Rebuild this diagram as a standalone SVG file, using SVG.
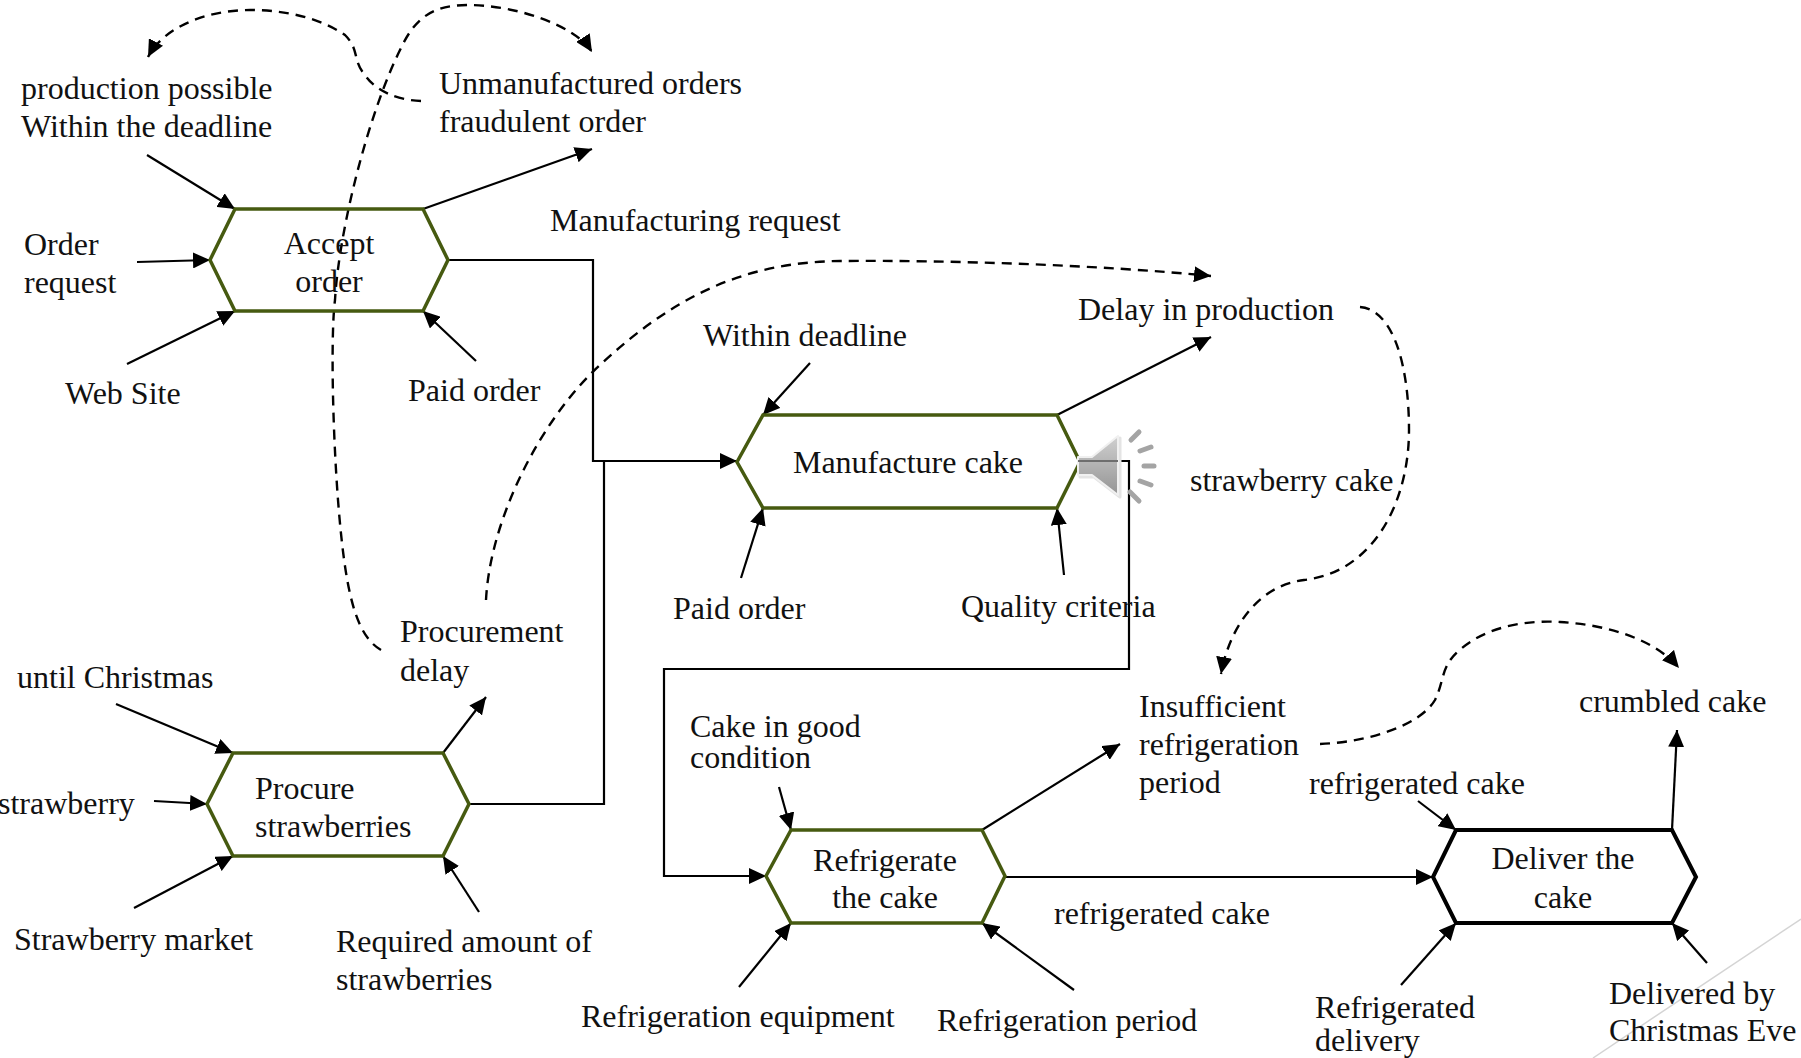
<svg xmlns="http://www.w3.org/2000/svg" width="1801" height="1058" viewBox="0 0 1801 1058">
<style>
text{font-family:"Liberation Serif","Times New Roman",serif;font-size:32px;fill:#111}
.m{text-anchor:middle}
.n{fill:none;stroke:#465a10;stroke-width:3.5;stroke-linejoin:miter}
.k{stroke:#000;stroke-width:4}
.c{fill:none;stroke:#000;stroke-width:2.2}
.a{marker-end:url(#ah)}
.d{fill:none;stroke:#000;stroke-width:2.4;stroke-dasharray:10 7}
.w{stroke:#a4a4a4;stroke-width:5;stroke-linecap:round;fill:none}
</style>
<defs>
<marker id="ah" markerUnits="userSpaceOnUse" markerWidth="19" markerHeight="16" refX="17" refY="8" orient="auto"><path d="M0,0L17,8L0,16Z" fill="#000"/></marker>
<linearGradient id="sp" x1="0" y1="0" x2="0" y2="1"><stop offset="0" stop-color="#d0d0d0"/><stop offset="1" stop-color="#949494"/></linearGradient>
</defs>
<rect width="1801" height="1058" fill="#fff"/>
<path d="M1801,919L1593,1058" fill="none" stroke="#d4d4d4" stroke-width="1.5"/>
<g id="connectors">
<path class="c a" d="M147,155L235,209"/>
<path class="c a" d="M137,262L210,260"/>
<path class="c a" d="M127,364L235,311"/>
<path class="c a" d="M476,361L423,311"/>
<path class="c a" d="M423,209L592,149"/>
<path class="c a" d="M448,260H593V461H737"/>
<path class="c" d="M469,804H604V461"/>
<path class="c a" d="M810,363L763,415"/>
<path class="c a" d="M741,578L763,508"/>
<path class="c a" d="M1064,575L1057,508"/>
<path class="c a" d="M1057,415L1211,337"/>
<path class="c a" d="M1080,461H1129V669H664V876H766"/>
<path class="c a" d="M116,704L233,753"/>
<path class="c a" d="M154,801L207,804"/>
<path class="c a" d="M134,908L233,856"/>
<path class="c a" d="M479,912L443,856"/>
<path class="c a" d="M443,753L486,697"/>
<path class="c a" d="M779,787L791,830"/>
<path class="c a" d="M739,987L791,923"/>
<path class="c a" d="M1074,990L982,923"/>
<path class="c a" d="M982,830L1120,744"/>
<path class="c a" d="M1005,877H1433"/>
<path class="c a" d="M1418,801L1456,830"/>
<path class="c a" d="M1401,985L1456,923"/>
<path class="c a" d="M1707,963L1672,923"/>
<path class="c a" d="M1672,830L1677,730"/>
<path class="d a" d="M421,101C395,100 375,90 365,75C352,60 360,50 345,35C320,18 285,10 250,10C210,10 165,25 148,57"/>
<path class="d a" d="M381,650C355,635 345,590 338,500C332,420 331,330 335,300C339,230 368,115 400,50C414,20 430,5 468,5C515,5 575,25 592,52"/>
<path class="d a" d="M486,600C490,520 540,420 600,365C670,300 740,262 840,261C950,260 1100,265 1211,276"/>
<path class="d a" d="M1360,307C1395,310 1409,370 1409,430C1409,500 1375,572 1304,580C1260,585 1230,625 1221,674"/>
<path class="d a" d="M1320,744C1370,742 1420,725 1435,700C1445,680 1440,665 1462,648C1490,625 1530,620 1560,622C1610,625 1655,640 1679,668"/>
</g>
<g id="accept-order"><path class="n" d="M210,260L235,209H423L448,260L423,311H235Z"/><text class="m" x="329" y="254">Accept</text><text class="m" x="329" y="292">order</text></g>
<g id="manufacture-cake"><path class="n" d="M737,462L763,415H1057L1080,462L1057,508H763Z"/><text class="m" x="908" y="473">Manufacture cake</text></g>
<g id="procure-strawberries"><path class="n" d="M207,804L233,753H443L469,804L443,856H233Z"/><text x="255" y="799">Procure</text><text x="255" y="837">strawberries</text></g>
<g id="refrigerate-cake"><path class="n" d="M766,876L791,830H982L1005,876L982,923H791Z"/><text class="m" x="885" y="871">Refrigerate</text><text class="m" x="885" y="908">the cake</text></g>
<g id="deliver-cake"><path class="n k" d="M1433,877L1456,830H1672L1696,877L1672,923H1456Z"/><text class="m" x="1563" y="869">Deliver the</text><text class="m" x="1563" y="908">cake</text></g>
<g id="labels">
<text x="21" y="99">production possible</text><text x="21" y="137">Within the deadline</text>
<text x="439" y="94">Unmanufactured orders</text><text x="439" y="132">fraudulent order</text>
<text x="550" y="231">Manufacturing request</text>
<text x="24" y="255">Order</text><text x="24" y="293">request</text>
<text x="65" y="404">Web Site</text>
<text x="408" y="401">Paid order</text>
<text x="703" y="346">Within deadline</text>
<text x="1078" y="320">Delay in production</text>
<text x="1190" y="491">strawberry cake</text>
<text x="673" y="619">Paid order</text>
<text x="961" y="617">Quality criteria</text>
<text x="400" y="642">Procurement</text><text x="400" y="681">delay</text>
<text x="17" y="688">until Christmas</text>
<text x="-2" y="814">strawberry</text>
<text x="14" y="950">Strawberry market</text>
<text x="336" y="952">Required amount of</text><text x="336" y="990">strawberries</text>
<text x="690" y="737">Cake in good</text><text x="690" y="768">condition</text>
<text x="1139" y="717">Insufficient</text><text x="1139" y="755">refrigeration</text><text x="1139" y="793">period</text>
<text x="1579" y="712">crumbled cake</text>
<text x="1309" y="794">refrigerated cake</text>
<text x="1054" y="924">refrigerated cake</text>
<text x="581" y="1027">Refrigeration equipment</text>
<text x="937" y="1031">Refrigeration period</text>
<text x="1315" y="1018">Refrigerated</text><text x="1315" y="1051">delivery</text>
<text x="1609" y="1004">Delivered by</text><text x="1609" y="1041">Christmas Eve</text>
</g>
<g id="speaker">
<path d="M1078,457H1092L1118,436V495L1092,475H1078Z" transform="translate(2,2)" fill="#dcdcdc" stroke="#e4e4e4" stroke-width="3" stroke-linejoin="round"/>
<path d="M1078,457H1092L1118,436V495L1092,475H1078Z" fill="url(#sp)" stroke="#f0f0f0" stroke-width="2" stroke-linejoin="round"/>
<path d="M1078,461H1118" stroke="#6e6e6e" stroke-width="2" fill="none"/>
<path class="w" d="M1131,440L1139,432M1140,451L1151,447M1144,466H1154M1140,481L1151,485M1130,492L1139,501"/>
</g>
</svg>
